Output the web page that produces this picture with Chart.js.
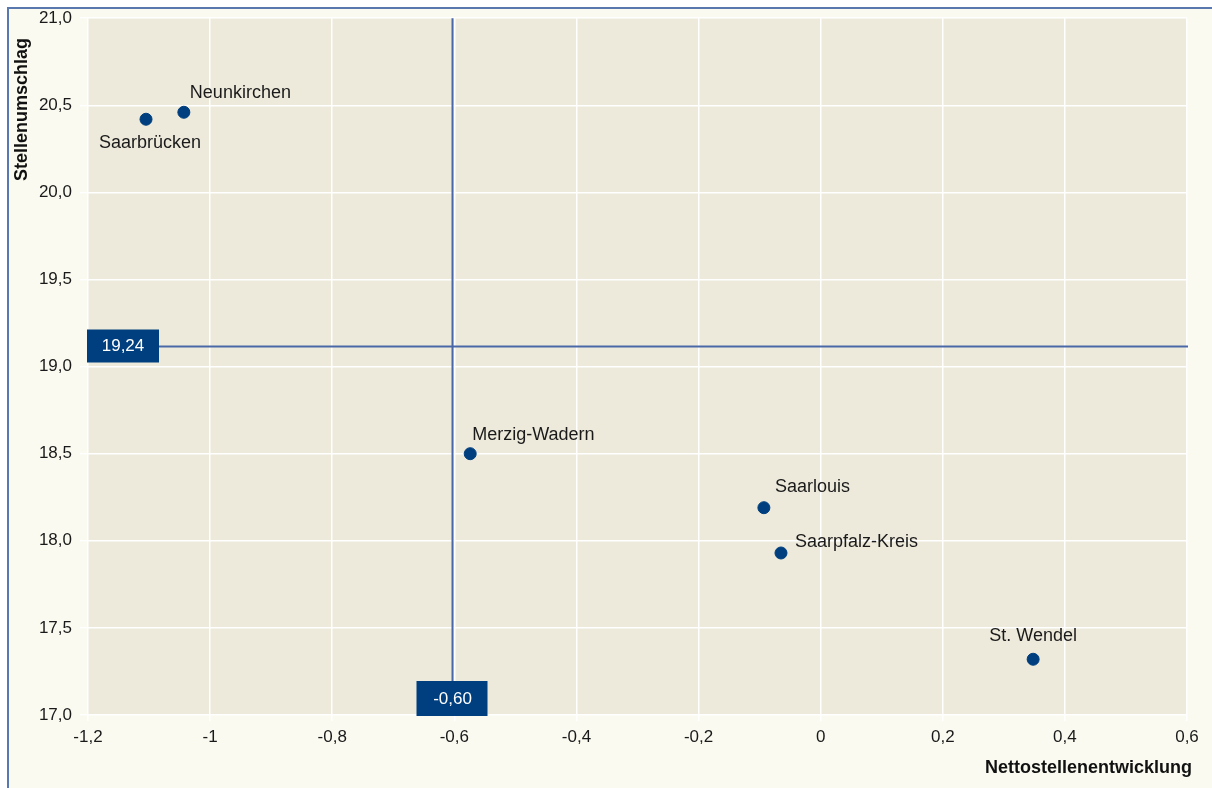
<!DOCTYPE html>
<html>
<head>
<meta charset="utf-8">
<script src="https://cdn.jsdelivr.net/npm/chart.js@4.4.0/dist/chart.umd.min.js"></script>
<style>
  html, body { margin: 0; padding: 0; background: #fff; }
  #wrap { width: 1212px; height: 788px; }
</style>
</head>
<body>
<div id="wrap"><canvas id="scatterChart" width="1212" height="788"></canvas></div>
<script>
// Kreise im Saarland
const regions = ['Saarbrücken', 'Neunkirchen', 'Merzig-Wadern', 'Saarlouis', 'Saarpfalz-Kreis', 'St. Wendel'];
const netto = [-1.105, -1.043, -0.574, -0.093, -0.065, 0.348];
const umschlag = [20.42, 20.46, 18.50, 18.19, 17.93, 17.32];

// Referenzlinien
const refX = -0.604;
const refXLabel = '-0,60';
const refY = 19.12;
const refYLabel = '19,24';

// label placement (px offsets from the point)
const labelOffsets = [
  { dx: 4, dy: 24, align: 'center' },
  { dx: 6, dy: -19, align: 'left' },
  { dx: 2, dy: -19, align: 'left' },
  { dx: 11, dy: -21, align: 'left' },
  { dx: 14, dy: -11, align: 'left' },
  { dx: 0, dy: -23, align: 'center' }
];

const FONT = '"Liberation Sans", Arial, sans-serif';
const navy = '#003f7f';
const lineBlue = '#4a68a8';

const frame = {
  id: 'frame',
  beforeDraw(chart) {
    const { ctx, chartArea: a } = chart;
    ctx.save();
    ctx.fillStyle = '#ffffff';
    ctx.fillRect(0, 0, chart.width, chart.height);
    ctx.fillStyle = '#fafaf0';
    ctx.fillRect(8, 8, chart.width - 8, chart.height - 8);
    ctx.strokeStyle = '#5a78b0';
    ctx.lineWidth = 2;
    ctx.beginPath();
    ctx.moveTo(8, chart.height);
    ctx.lineTo(8, 8);
    ctx.lineTo(chart.width, 8);
    ctx.stroke();
    ctx.fillStyle = '#edeadb';
    ctx.fillRect(a.left, a.top, a.right - a.left, a.bottom - a.top);
    ctx.restore();
  }
};

const overlay = {
  id: 'overlay',
  afterDatasetsDraw(chart) {
    const { ctx, chartArea: a, scales: { x, y } } = chart;
    const px = Math.round(x.getPixelForValue(refX)) + 0.5;
    const py = Math.round(y.getPixelForValue(refY)) + 0.5;
    ctx.save();
    // reference lines
    ctx.strokeStyle = lineBlue;
    ctx.lineWidth = 2;
    ctx.beginPath();
    ctx.moveTo(px, a.top);
    ctx.lineTo(px, a.bottom);
    ctx.moveTo(a.left, py);
    ctx.lineTo(a.right + 1, py);
    ctx.stroke();
    // value boxes
    ctx.font = '17px ' + FONT;
    ctx.textAlign = 'center';
    ctx.textBaseline = 'middle';
    ctx.fillStyle = navy;
    ctx.fillRect(a.left - 1, py - 17, 72, 33);
    ctx.fillRect(px - 36, a.bottom - 34, 71, 35);
    ctx.fillStyle = '#ffffff';
    ctx.fillText(refYLabel, a.left + 35, py);
    ctx.fillText(refXLabel, px, a.bottom - 16);
    ctx.restore();
  },
  afterDraw(chart) {
    const { ctx } = chart;
    const meta = chart.getDatasetMeta(0);
    ctx.save();
    ctx.fillStyle = '#1a1a1a';
    ctx.font = '18px ' + FONT;
    ctx.textBaseline = 'middle';
    meta.data.forEach((pt, i) => {
      const o = labelOffsets[i];
      ctx.textAlign = o.align;
      ctx.fillText(regions[i], pt.x + o.dx, pt.y + o.dy);
    });
    // axis titles
    ctx.font = 'bold 18px ' + FONT;
    ctx.fillStyle = '#111';
    ctx.textAlign = 'right';
    ctx.fillText('Nettostellenentwicklung', 1192, 768);
    ctx.translate(22, 38);
    ctx.rotate(-Math.PI / 2);
    ctx.fillText('Stellenumschlag', 0, 0);
    ctx.restore();
  }
};

new Chart(document.getElementById('scatterChart'), {
  type: 'scatter',
  data: {
    datasets: [{
      label: 'Kreise',
      data: netto.map((v, i) => ({ x: v, y: umschlag[i] })),
      backgroundColor: navy,
      borderColor: navy,
      pointRadius: 6,
      pointHoverRadius: 6
    }]
  },
  options: {
    responsive: false,
    animation: false,
    layout: { padding: { top: 18, right: 25, left: 0, bottom: 0 } },
    plugins: {
      legend: { display: false },
      tooltip: { enabled: false }
    },
    scales: {
      x: {
        min: -1.2,
        max: 0.6,
        ticks: {
          stepSize: 0.2,
          padding: 6,
          color: '#1a1a1a',
          font: { family: FONT, size: 17 },
          callback: v => (Math.round(v * 10) / 10).toString().replace('.', ',')
        },
        grid: { color: '#ffffff', lineWidth: 1.5, tickLength: 6 },
        border: { display: false },
        afterFit: s => { s.height = 73; }
      },
      y: {
        min: 17,
        max: 21,
        ticks: {
          stepSize: 0.5,
          padding: 8,
          color: '#1a1a1a',
          font: { family: FONT, size: 17 },
          callback: v => v.toFixed(1).replace('.', ',')
        },
        grid: { color: '#ffffff', lineWidth: 1.5, tickLength: 8 },
        border: { display: false },
        afterFit: s => { s.width = 88; }
      }
    }
  },
  plugins: [frame, overlay]
});
</script>
</body>
</html>
